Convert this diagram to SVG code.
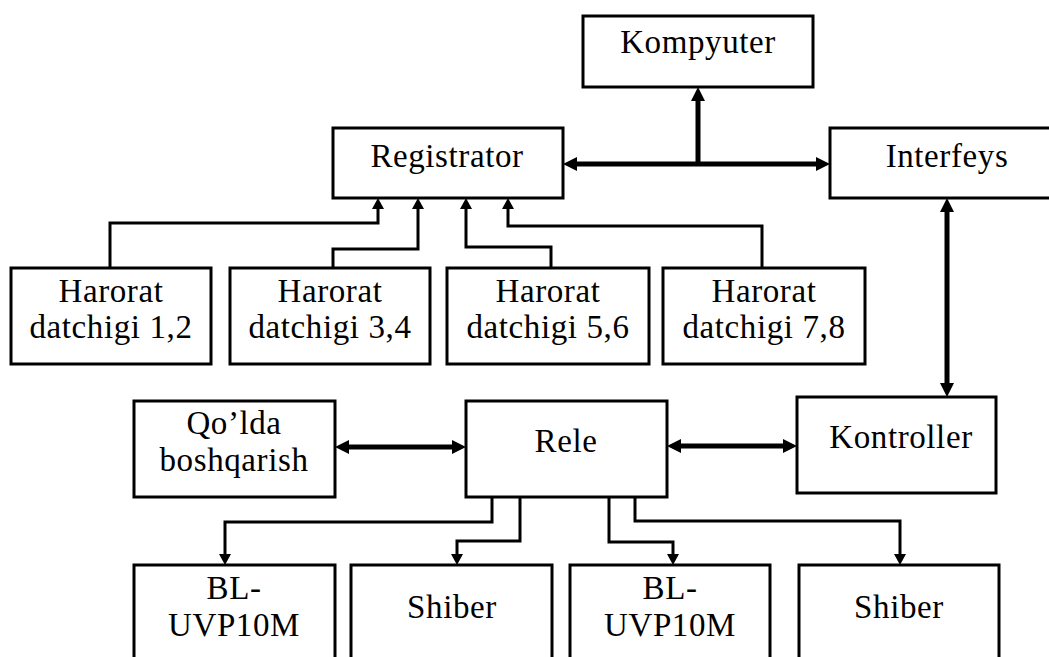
<svg xmlns="http://www.w3.org/2000/svg" width="1049" height="657" viewBox="0 0 1049 657">
<style>
.box{fill:#fff;stroke:#000;stroke-width:3}
.t{font-family:"Liberation Serif","Times New Roman",serif;font-size:33px;fill:#000;text-anchor:middle;letter-spacing:0.6px}
.thick{fill:none;stroke:#000;stroke-width:5}
.thin{fill:none;stroke:#000;stroke-width:3}
</style>
<defs>
<marker id="big" markerUnits="userSpaceOnUse" markerWidth="14" markerHeight="14" viewBox="0 0 14 14" refX="6" refY="7" orient="auto-start-reverse"><path d="M0,0 L14,7 L0,14 z" fill="#000"/></marker>
<marker id="small" markerUnits="userSpaceOnUse" markerWidth="11" markerHeight="12" viewBox="0 0 11 12" refX="6" refY="6" orient="auto-start-reverse"><path d="M0,0 L11,6 L0,12 z" fill="#000"/></marker>
</defs>
<rect width="1049" height="657" fill="#fff"/>
<g id="connectors">
<line class="thick" x1="571" y1="164" x2="822" y2="164" marker-start="url(#big)" marker-end="url(#big)"/>
<line class="thick" x1="698" y1="166" x2="698" y2="95" marker-end="url(#big)"/>
<line class="thick" x1="947" y1="206" x2="947" y2="389" marker-start="url(#big)" marker-end="url(#big)"/>
<line class="thick" x1="343" y1="447" x2="458" y2="447" marker-start="url(#big)" marker-end="url(#big)"/>
<line class="thick" x1="675" y1="446" x2="789" y2="446" marker-start="url(#big)" marker-end="url(#big)"/>
<path class="thin" d="M110,268 V223 H378 V203" marker-end="url(#small)"/>
<path class="thin" d="M333,268 V249 H418 V203" marker-end="url(#small)"/>
<path class="thin" d="M551,268 V247 H466 V203" marker-end="url(#small)"/>
<path class="thin" d="M762,268 V226 H508 V203" marker-end="url(#small)"/>
<path class="thin" d="M492,497 V522 H225 V560" marker-end="url(#small)"/>
<path class="thin" d="M520,497 V541 H457 V560" marker-end="url(#small)"/>
<path class="thin" d="M609,497 V542 H673 V560" marker-end="url(#small)"/>
<path class="thin" d="M635,497 V521 H900 V560" marker-end="url(#small)"/>
</g>
<g id="kompyuter"><rect class="box" x="583" y="16" width="230" height="71"/><text class="t" x="698" y="53">Kompyuter</text></g>
<g id="registrator"><rect class="box" x="333" y="128" width="230" height="70"/><text class="t" x="447" y="167">Registrator</text></g>
<g id="interfeys"><rect class="box" x="830" y="128" width="234" height="70"/><text class="t" x="947" y="167">Interfeys</text></g>
<g id="sensor12"><rect class="box" x="11" y="268" width="200" height="96"/><text class="t" x="111" y="302">Harorat</text><text class="t" x="111" y="338">datchigi 1,2</text></g>
<g id="sensor34"><rect class="box" x="230" y="268" width="200" height="96"/><text class="t" x="330" y="302">Harorat</text><text class="t" x="330" y="338">datchigi 3,4</text></g>
<g id="sensor56"><rect class="box" x="447" y="268" width="202" height="96"/><text class="t" x="548" y="302">Harorat</text><text class="t" x="548" y="338">datchigi 5,6</text></g>
<g id="sensor78"><rect class="box" x="663" y="268" width="202" height="96"/><text class="t" x="764" y="302">Harorat</text><text class="t" x="764" y="338">datchigi 7,8</text></g>
<g id="qolda"><rect class="box" x="134" y="401" width="201" height="96"/><text class="t" x="234" y="434">Qo’lda</text><text class="t" x="234" y="471">boshqarish</text></g>
<g id="rele"><rect class="box" x="466" y="401" width="201" height="96"/><text class="t" x="566" y="452">Rele</text></g>
<g id="kontroller"><rect class="box" x="797" y="397" width="199" height="96"/><text class="t" x="901" y="448">Kontroller</text></g>
<g id="bl1"><rect class="box" x="134" y="565" width="201" height="110"/><text class="t" x="234" y="599">BL-</text><text class="t" x="234" y="636">UVP10M</text></g>
<g id="shiber1"><rect class="box" x="351" y="565" width="201" height="110"/><text class="t" x="452" y="618">Shiber</text></g>
<g id="bl2"><rect class="box" x="570" y="565" width="200" height="110"/><text class="t" x="670" y="599">BL-</text><text class="t" x="670" y="636">UVP10M</text></g>
<g id="shiber2"><rect class="box" x="799" y="565" width="200" height="110"/><text class="t" x="899" y="618">Shiber</text></g>
</svg>
